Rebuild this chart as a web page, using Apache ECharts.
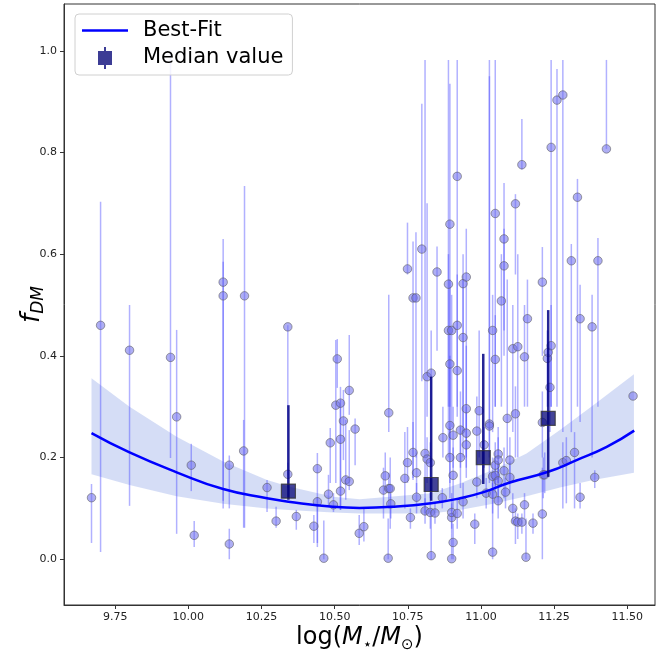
<!DOCTYPE html>
<html>
<head>
<meta charset="utf-8">
<script src="https://cdn.jsdelivr.net/npm/echarts@6/dist/echarts.min.js"></script>
<style>
  html, body { margin: 0; padding: 0; background: #fff; }
  #chart { width: 657px; height: 665px; }
</style>
</head>
<body>
<div id="chart"></div>
<script>
// galaxies: [logMstar, fDM, errLow, errHigh]
const galaxies = [
  [9.669, 0.121, 0.032, 0.148], [9.700, 0.460, 0.014, 0.703], [9.799, 0.411, 0.105, 0.500],
  [9.939, 0.397, 0.199, 1.000], [9.960, 0.280, 0.050, 0.451], [10.010, 0.185, 0.134, 0.227],
  [10.020, 0.047, 0.024, 0.075], [10.119, 0.545, 0.115, 0.630], [10.119, 0.518, 0.100, 0.585],
  [10.140, 0.185, 0.100, 0.204], [10.140, 0.030, 0.000, 0.060], [10.189, 0.213, 0.062, 0.274],
  [10.192, 0.518, 0.062, 0.734], [10.269, 0.141, 0.093, 0.156], [10.300, 0.075, 0.062, 0.103],
  [10.340, 0.457, 0.166, 0.460], [10.340, 0.167, 0.140, 0.190], [10.369, 0.084, 0.058, 0.097],
  [10.429, 0.065, 0.032, 0.087], [10.441, 0.178, 0.024, 0.209], [10.441, 0.113, 0.032, 0.122],
  [10.463, 0.002, 0.000, 0.076], [10.479, 0.128, 0.103, 0.166], [10.485, 0.229, 0.150, 0.258],
  [10.496, 0.107, 0.093, 0.130], [10.504, 0.303, 0.150, 0.431], [10.509, 0.394, 0.337, 0.433],
  [10.520, 0.307, 0.097, 0.339], [10.520, 0.236, 0.175, 0.313], [10.530, 0.272, 0.195, 0.333],
  [10.520, 0.134, 0.097, 0.175], [10.538, 0.156, 0.117, 0.274], [10.550, 0.153, 0.136, 0.254],
  [10.550, 0.332, 0.284, 0.441], [10.570, 0.256, 0.185, 0.277], [10.584, 0.051, 0.028, 0.087],
  [10.600, 0.064, 0.035, 0.100], [10.667, 0.136, 0.080, 0.180], [10.673, 0.164, 0.135, 0.210],
  [10.683, 0.002, 0.000, 0.080], [10.685, 0.139, 0.100, 0.170], [10.685, 0.288, 0.250, 0.520],
  [10.690, 0.139, 0.060, 0.200], [10.692, 0.109, 0.080, 0.130], [10.740, 0.159, 0.100, 0.250],
  [10.749, 0.190, 0.150, 0.260], [10.749, 0.571, 0.560, 0.662], [10.759, 0.082, 0.060, 0.100],
  [10.768, 0.514, 0.156, 0.625], [10.768, 0.210, 0.160, 0.270], [10.778, 0.514, 0.200, 0.643],
  [10.780, 0.170, 0.130, 0.210], [10.780, 0.122, 0.090, 0.150], [10.798, 0.610, 0.350, 0.896],
  [10.809, 0.208, 0.090, 0.982], [10.809, 0.095, 0.070, 0.120], [10.816, 0.359, 0.280, 0.700],
  [10.816, 0.197, 0.150, 0.240], [10.827, 0.190, 0.120, 0.230], [10.827, 0.092, 0.060, 0.130],
  [10.830, 0.366, 0.200, 0.450], [10.830, 0.007, 0.000, 0.100], [10.843, 0.091, 0.070, 0.110],
  [10.850, 0.565, 0.410, 0.615], [10.868, 0.121, 0.100, 0.140], [10.870, 0.239, 0.200, 0.300],
  [10.889, 0.541, 0.200, 0.982], [10.889, 0.450, 0.300, 0.600], [10.894, 0.659, 0.235, 0.935],
  [10.894, 0.384, 0.300, 0.550], [10.894, 0.263, 0.150, 0.400], [10.894, 0.200, 0.120, 0.260],
  [10.900, 0.450, 0.260, 0.520], [10.900, 0.082, 0.050, 0.110], [10.900, 0.092, 0.060, 0.130],
  [10.900, 0.001, 0.000, 0.050], [10.905, 0.244, 0.180, 0.300], [10.905, 0.165, 0.100, 0.220],
  [10.905, 0.033, 0.000, 0.070], [10.919, 0.753, 0.450, 0.982], [10.919, 0.460, 0.300, 0.560],
  [10.919, 0.371, 0.280, 0.450], [10.919, 0.090, 0.060, 0.120], [10.930, 0.254, 0.180, 0.330],
  [10.930, 0.200, 0.140, 0.260], [10.939, 0.542, 0.250, 0.600], [10.939, 0.436, 0.200, 0.550],
  [10.939, 0.113, 0.080, 0.150], [10.950, 0.555, 0.300, 0.650], [10.950, 0.296, 0.200, 0.420],
  [10.950, 0.248, 0.180, 0.300], [10.950, 0.225, 0.160, 0.300], [10.979, 0.069, 0.030, 0.090],
  [10.986, 0.152, 0.120, 0.200], [10.986, 0.252, 0.200, 0.320], [10.994, 0.292, 0.200, 0.450],
  [11.011, 0.225, 0.180, 0.260], [11.018, 0.130, 0.100, 0.160], [11.029, 0.266, 0.200, 0.982],
  [11.029, 0.262, 0.150, 0.950], [11.040, 0.450, 0.250, 0.520], [11.040, 0.163, 0.120, 0.200],
  [11.040, 0.128, 0.090, 0.160], [11.040, 0.014, 0.000, 0.150], [11.049, 0.680, 0.300, 0.982],
  [11.049, 0.393, 0.300, 0.480], [11.049, 0.185, 0.140, 0.230], [11.049, 0.165, 0.130, 0.200],
  [11.059, 0.207, 0.150, 0.260], [11.059, 0.195, 0.150, 0.240], [11.059, 0.154, 0.120, 0.190],
  [11.059, 0.115, 0.080, 0.140], [11.070, 0.508, 0.300, 0.600], [11.079, 0.630, 0.450, 0.740],
  [11.079, 0.577, 0.400, 0.650], [11.079, 0.174, 0.120, 0.220], [11.084, 0.132, 0.100, 0.160],
  [11.090, 0.277, 0.200, 0.550], [11.099, 0.195, 0.150, 0.240], [11.099, 0.161, 0.130, 0.190],
  [11.109, 0.100, 0.070, 0.130], [11.109, 0.414, 0.250, 0.500], [11.118, 0.699, 0.560, 0.718],
  [11.118, 0.286, 0.200, 0.340], [11.118, 0.075, 0.030, 0.100], [11.126, 0.418, 0.200, 0.600],
  [11.126, 0.073, 0.040, 0.090], [11.140, 0.776, 0.766, 0.866], [11.140, 0.073, 0.050, 0.090],
  [11.149, 0.398, 0.300, 0.500], [11.149, 0.107, 0.080, 0.130], [11.154, 0.004, 0.000, 0.080],
  [11.159, 0.473, 0.300, 0.550], [11.178, 0.071, 0.050, 0.090], [11.210, 0.545, 0.400, 0.614],
  [11.210, 0.269, 0.200, 0.330], [11.210, 0.089, 0.000, 0.180], [11.213, 0.166, 0.120, 0.200],
  [11.218, 0.166, 0.130, 0.210], [11.227, 0.395, 0.300, 0.450], [11.230, 0.407, 0.300, 0.450],
  [11.236, 0.338, 0.250, 0.400], [11.240, 0.420, 0.300, 0.500], [11.240, 0.810, 0.300, 0.982],
  [11.260, 0.903, 0.300, 0.964], [11.280, 0.913, 0.250, 0.982], [11.280, 0.190, 0.100, 0.230],
  [11.292, 0.194, 0.110, 0.240], [11.309, 0.587, 0.250, 0.620], [11.320, 0.210, 0.100, 0.250],
  [11.330, 0.712, 0.300, 0.748], [11.339, 0.473, 0.270, 0.540], [11.339, 0.122, 0.100, 0.150],
  [11.380, 0.457, 0.200, 0.520], [11.389, 0.161, 0.140, 0.175], [11.400, 0.587, 0.300, 0.632],
  [11.429, 0.807, 0.807, 0.982], [11.520, 0.321, 0.321, 0.321]
];

// binned medians
const medianX = [10.342, 10.830, 11.008, 11.230];
const medianY = [0.134, 0.147, 0.200, 0.277];
const medianLo = [0.117, 0.115, 0.148, 0.162];
const medianHi = [0.303, 0.359, 0.404, 0.490];

// best-fit curve and its band
const fitX = [9.669, 9.799, 9.960, 10.119, 10.269, 10.342, 10.494, 10.585, 10.697,
              10.830, 10.929, 11.009, 11.099, 11.230, 11.327, 11.430, 11.524];
const fitY = [0.248, 0.210, 0.171, 0.138, 0.120, 0.113, 0.103, 0.101, 0.103,
              0.110, 0.120, 0.132, 0.151, 0.172, 0.195, 0.221, 0.253];
const bandX = [9.669, 9.799, 9.960, 10.119, 10.269, 10.343, 10.495, 10.586,
               10.830, 10.928, 11.042, 11.156, 11.270, 11.384, 11.523];
const bandLo = [0.167, 0.146, 0.124, 0.109, 0.100, 0.097, 0.092, 0.090,
                0.090, 0.097, 0.109, 0.124, 0.141, 0.156, 0.170];
const bandHi = [0.356, 0.300, 0.241, 0.192, 0.156, 0.143, 0.123, 0.118,
                0.130, 0.149, 0.176, 0.208, 0.254, 0.303, 0.364];

const xTicks = [9.75, 10.0, 10.25, 10.5, 10.75, 11.0, 11.25, 11.5];
const yTicks = [0.0, 0.2, 0.4, 0.6, 0.8, 1.0];

const chart = echarts.init(document.getElementById("chart"));

const FONT = "DejaVu Sans";

const errorBar = (color, width) => (params, api) => {
  const top = api.coord([api.value(0), api.value(2)]);
  const bot = api.coord([api.value(0), api.value(1)]);
  return {
    type: "line",
    shape: { x1: top[0], y1: top[1], x2: bot[0], y2: bot[1] },
    style: { stroke: color, lineWidth: width },
  };
};

const option = {
  animation: false,
  backgroundColor: "#fff",
  grid: {
    left: 64,
    right: 2,
    top: 4,
    bottom: 60,
    containLabel: false,
    outerBoundsMode: "none",
    show: true,
    borderColor: "#333",
    borderWidth: 1,
  },
  legend: {
    orient: "vertical",
    left: 75,
    top: 14,
    padding: [6, 9, 6, 7],
    itemWidth: 46,
    itemHeight: 22,
    itemGap: 6,
    backgroundColor: "rgba(255,255,255,0.85)",
    borderColor: "#d0d0d0",
    borderWidth: 1,
    borderRadius: 4,
    textStyle: { fontFamily: FONT, fontSize: 21, color: "#000", padding: [0, 0, 0, 10] },
    data: [
      { name: "Best-Fit", icon: "path://M0,0h46v2.6h-46z" },
      {
        name: "Median value",
        icon: "path://M6,0h2v4h6v14h-6v4h-2v-4h-6v-14h6z",
        itemStyle: { color: "#0b0b7a", borderWidth: 0 },
      },
    ],
  },
  xAxis: {
    type: "value",
    min: 9.575,
    max: 11.595,
    name: "{n|log(}{i|M}{s|⋆}{n|/}{i|M}{s|⊙}{n|)}",
    nameLocation: "middle",
    nameGap: 18,
    nameMoveOverlap: false,
    nameTextStyle: {
      rich: {
        n: { fontFamily: FONT, fontSize: 24, color: "#000", lineHeight: 30 },
        i: { fontFamily: FONT, fontSize: 24, fontStyle: "italic", color: "#000", lineHeight: 30 },
        s: { fontFamily: FONT, fontSize: 15, color: "#000", lineHeight: 30, verticalAlign: "bottom", padding: [10, 0, 0, 0] },
      },
    },
    axisLine: { show: true, onZero: false, lineStyle: { color: "#333", width: 1 } },
    axisTick: { show: true, length: 4, lineStyle: { color: "#333" }, customValues: xTicks },
    axisLabel: {
      customValues: xTicks,
      formatter: (v) => v.toFixed(2),
      fontFamily: FONT,
      fontSize: 11,
      color: "#222",
      margin: 7,
    },
    splitLine: { show: false },
  },
  yAxis: {
    type: "value",
    min: -0.09,
    max: 1.092,
    name: "{i|f}{s|DM}",
    nameLocation: "middle",
    nameRotate: 90,
    nameGap: 17,
    nameMoveOverlap: false,
    nameTextStyle: {
      rich: {
        i: { fontFamily: FONT, fontSize: 26, fontStyle: "italic", color: "#000", lineHeight: 30 },
        s: { fontFamily: FONT, fontSize: 17, fontStyle: "italic", color: "#000", lineHeight: 30, verticalAlign: "bottom", padding: [10, 0, 0, 0] },
      },
    },
    axisLine: { show: true, onZero: false, lineStyle: { color: "#333", width: 1 } },
    axisTick: { show: true, length: 4, lineStyle: { color: "#333" }, customValues: yTicks },
    axisLabel: {
      customValues: yTicks,
      formatter: (v) => v.toFixed(1),
      fontFamily: FONT,
      fontSize: 11,
      color: "#222",
      margin: 7,
    },
    splitLine: { show: false },
  },
  series: [
    {
      name: "band",
      type: "custom",
      silent: true,
      z: 1,
      data: [[bandX[0], bandLo[0], bandHi[0]]],
      renderItem: (params, api) => {
        const pts = [];
        for (let k = 0; k < bandX.length; k++) pts.push(api.coord([bandX[k], bandHi[k]]));
        for (let k = bandX.length - 1; k >= 0; k--) pts.push(api.coord([bandX[k], bandLo[k]]));
        return { type: "polygon", shape: { points: pts }, style: { fill: "rgba(100,130,220,0.27)" } };
      },
    },
    {
      name: "errors",
      type: "custom",
      silent: true,
      z: 2,
      data: galaxies.map((g) => [g[0], g[2], g[3]]),
      encode: { x: 0, y: [1, 2] },
      renderItem: errorBar("rgba(70,70,255,0.42)", 1.5),
    },
    {
      name: "galaxies",
      type: "scatter",
      z: 3,
      symbol: "circle",
      symbolSize: 8.5,
      data: galaxies.map((g) => [g[0], g[1]]),
      itemStyle: { color: "rgba(110,110,235,0.7)", borderColor: "rgba(90,90,90,0.7)", borderWidth: 1 },
    },
    {
      name: "Best-Fit",
      type: "line",
      z: 4,
      smooth: true,
      showSymbol: false,
      data: fitX.map((x, k) => [x, fitY[k]]),
      lineStyle: { color: "#0000ff", width: 2.5 },
      itemStyle: { color: "#0000ff" },
    },
    {
      name: "medianErr",
      type: "custom",
      silent: true,
      z: 5,
      data: medianX.map((x, k) => [x, medianLo[k], medianHi[k]]),
      encode: { x: 0, y: [1, 2] },
      renderItem: errorBar("rgba(0,0,130,0.85)", 2.5),
    },
    {
      name: "Median value",
      type: "scatter",
      z: 6,
      symbol: "rect",
      symbolSize: 14,
      data: medianX.map((x, k) => [x, medianY[k]]),
      itemStyle: { color: "rgba(0,0,115,0.92)", borderColor: "#333", borderWidth: 1.2 },
    },
  ],
};

chart.setOption(option);
</script>
</body>
</html>
